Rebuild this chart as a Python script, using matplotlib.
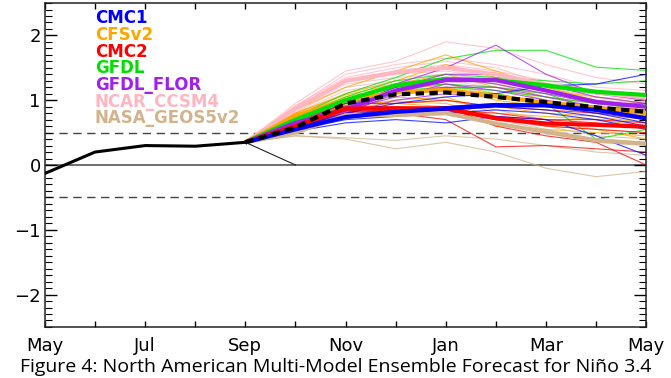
import matplotlib
matplotlib.use('Agg')
import matplotlib.pyplot as plt
from matplotlib.ticker import MultipleLocator

# x axis: May .. May (13 months)
months = ['May', 'Jun', 'Jul', 'Aug', 'Sep', 'Oct', 'Nov', 'Dec', 'Jan', 'Feb', 'Mar', 'Apr', 'May']
tick_labels = ['May', '', 'Jul', '', 'Sep', '', 'Nov', '', 'Jan', '', 'Mar', '', 'May']

# observed Nino 3.4 (May..Sep)
obs = [-0.13, 0.20, 0.30, 0.29, 0.35]
# persistence-ish thin line Sep -> Oct
persist = [0.35, 0.0]

# forecasts, Oct..May (start value comes from last observation)
nmme_mean = [0.58, 0.95, 1.09, 1.12, 1.05, 0.97, 0.89, 0.82]

cmc1_members = [
    [0.58, 0.80, 0.95, 1.05, 1.10, 1.22, 1.25, 1.40],
    [0.56, 0.75, 0.85, 0.90, 0.95, 0.95, 0.85, 0.70],
    [0.54, 0.70, 0.75, 0.80, 0.85, 0.80, 0.70, 0.55],
    [0.52, 0.65, 0.70, 0.65, 0.75, 0.70, 0.45, 0.15],
    [0.55, 0.72, 0.80, 0.85, 0.90, 0.85, 0.75, 0.60],
    [0.57, 0.78, 0.85, 0.90, 0.95, 0.90, 0.80, 0.65],
]
cmc1_mean = [0.55, 0.74, 0.82, 0.87, 0.92, 0.92, 0.85, 0.72]

cfsv2_members = [
    [0.85, 1.20, 1.45, 1.70, 1.45, 1.20, 1.00, 0.90],
    [0.80, 1.10, 1.30, 1.55, 1.35, 1.15, 1.05, 0.95],
    [0.78, 1.05, 1.20, 1.35, 1.25, 1.05, 0.95, 0.85],
    [0.72, 0.95, 1.10, 1.20, 1.00, 0.90, 0.80, 0.70],
    [0.70, 0.90, 1.00, 1.05, 0.80, 0.75, 0.70, 0.60],
    [0.68, 0.88, 0.95, 0.90, 0.60, 0.55, 0.50, 0.45],
    [0.75, 1.00, 1.15, 1.25, 1.10, 0.95, 0.85, 0.75],
    [0.80, 1.08, 1.25, 1.40, 1.20, 1.00, 0.90, 0.85],
    [0.74, 0.98, 1.05, 1.00, 0.90, 0.80, 0.75, 0.65],
    [0.70, 0.92, 0.98, 0.95, 0.75, 0.60, 0.55, 0.40],
]
cfsv2_mean = [0.76, 1.00, 1.12, 1.16, 1.06, 0.96, 0.88, 0.80]

cmc2_members = [
    [0.65, 0.95, 0.95, 1.00, 0.90, 0.85, 0.80, 0.80],
    [0.62, 0.90, 0.90, 0.90, 0.75, 0.70, 0.65, 0.60],
    [0.60, 0.85, 0.80, 0.70, 0.28, 0.30, 0.25, 0.20],
    [0.58, 0.82, 0.85, 0.90, 0.60, 0.45, 0.35, 0.00],
    [0.60, 0.88, 0.90, 0.85, 0.80, 0.70, 0.70, 0.65],
    [0.57, 0.80, 0.80, 0.85, 0.70, 0.60, 0.55, 0.50],
]
cmc2_mean = [0.60, 0.87, 0.87, 0.87, 0.72, 0.64, 0.62, 0.59]

gfdl_members = [
    [0.75, 1.10, 1.35, 1.64, 1.77, 1.77, 1.51, 1.46],
    [0.72, 1.05, 1.30, 1.40, 1.35, 1.30, 1.25, 1.30],
    [0.70, 1.00, 1.25, 1.30, 1.30, 1.20, 1.10, 1.10],
    [0.68, 0.95, 1.15, 1.20, 1.15, 1.05, 0.95, 0.90],
    [0.70, 1.00, 1.20, 1.25, 1.20, 1.10, 0.85, 0.95],
    [0.66, 0.92, 1.10, 1.15, 1.10, 0.95, 0.40, 0.55],
]
gfdl_mean = [0.70, 1.00, 1.23, 1.33, 1.31, 1.23, 1.13, 1.08]

flor_members = [
    [0.68, 0.95, 1.25, 1.50, 1.85, 1.40, 1.10, 1.00],
    [0.66, 0.90, 1.20, 1.40, 1.40, 1.25, 1.05, 0.95],
    [0.64, 0.85, 1.15, 1.30, 1.30, 1.15, 1.00, 0.90],
    [0.62, 0.80, 1.10, 1.20, 1.20, 1.05, 0.90, 0.85],
    [0.65, 0.85, 1.05, 1.25, 1.15, 1.00, 0.85, 0.75],
    [0.60, 0.78, 1.00, 1.10, 1.05, 0.95, 0.80, 0.70],
    [0.66, 0.88, 1.20, 1.35, 1.25, 1.10, 0.95, 0.95],
]
flor_mean = [0.65, 0.85, 1.15, 1.31, 1.31, 1.15, 0.97, 0.90]

ccsm4_members = [
    [0.95, 1.45, 1.60, 1.90, 1.80, 1.55, 1.35, 1.25],
    [0.90, 1.40, 1.55, 1.65, 1.55, 1.40, 1.20, 1.15],
    [0.88, 1.30, 1.45, 1.55, 1.45, 1.30, 1.15, 1.10],
    [0.85, 1.25, 1.35, 1.40, 1.30, 1.20, 1.05, 1.00],
    [0.82, 1.20, 1.30, 1.30, 1.20, 1.10, 1.00, 0.95],
    [0.80, 1.15, 1.25, 1.20, 1.10, 0.95, 0.90, 0.85],
    [0.92, 1.35, 1.50, 1.60, 1.50, 1.25, 1.15, 1.05],
    [0.86, 1.28, 1.40, 1.45, 1.35, 1.15, 1.10, 1.00],
]
ccsm4_mean = [0.87, 1.30, 1.43, 1.50, 1.40, 1.24, 1.12, 1.04]

geos_members = [
    [0.45, 0.40, 0.25, 0.35, 0.20, -0.05, -0.18, -0.10],
    [0.45, 0.42, 0.38, 0.45, 0.40, 0.30, 0.20, 0.15],
    [0.52, 0.80, 0.85, 0.90, 0.75, 0.60, 0.45, 0.40],
    [0.55, 0.90, 0.95, 1.00, 0.85, 0.70, 0.55, 0.50],
    [0.50, 0.78, 0.80, 0.85, 0.70, 0.55, 0.40, 0.35],
    [0.53, 0.85, 0.88, 0.80, 0.65, 0.50, 0.35, 0.30],
]
geos_mean = [0.50, 0.77, 0.77, 0.80, 0.64, 0.51, 0.38, 0.33]

legend_names = ['CMC1', 'CFSv2', 'CMC2', 'GFDL', 'GFDL_FLOR', 'NCAR_CCSM4', 'NASA_GEOS5v2']
legend_colors = ['#0000ff', '#ffa500', '#ff0000', '#00e000', '#a020f0', '#ffb6c1', '#d2b48c']

x_all = list(range(len(months)))
x_obs = x_all[:len(obs)]
x_fc = x_all[len(obs) - 1:]

fig = plt.figure(figsize=(6.71, 3.78), dpi=100)
ax = fig.add_axes([0.067, 0.135, 0.896, 0.857])

# reference lines
ax.axhline(0, color='#555555', lw=1.2, zorder=1)
ax.axhline(0.5, color='#444444', lw=1.0, ls=(0, (6, 4)), zorder=1)
ax.axhline(-0.5, color='#444444', lw=1.0, ls=(0, (6, 4)), zorder=1)

# spaghetti: drawn in this order so the colours stack like the original
draw_order = [('NCAR_CCSM4', ccsm4_members, ccsm4_mean),
              ('CFSv2', cfsv2_members, cfsv2_mean),
              ('NASA_GEOS5v2', geos_members, geos_mean),
              ('GFDL', gfdl_members, gfdl_mean),
              ('GFDL_FLOR', flor_members, flor_mean),
              ('CMC2', cmc2_members, cmc2_mean),
              ('CMC1', cmc1_members, cmc1_mean)]
col = dict(zip(legend_names, legend_colors))

for name, members, mean in draw_order:
    for m in members:
        ax.plot(x_fc, [obs[-1]] + m, color=col[name], lw=0.8, alpha=0.75, zorder=2)

for name, members, mean in draw_order:
    ax.plot(x_fc, [obs[-1]] + mean, color=col[name], lw=3.0, zorder=3,
            solid_capstyle='butt')

ax.plot(x_fc, [obs[-1]] + nmme_mean, color='black', lw=3.0, ls=(0, (2, 1.3)), zorder=4)
ax.plot(x_obs[-1:] + [x_obs[-1] + 1], persist, color='#222222', lw=0.8, zorder=4)
ax.plot(x_obs, obs, color='black', lw=2.2, zorder=5)

# legend as coloured text
for i, (name, c) in enumerate(zip(legend_names, legend_colors)):
    ax.text(0.083, 0.953 - i * 0.0515, name, color=c, transform=ax.transAxes,
            fontsize=12, fontweight='bold', family='DejaVu Sans', va='center', ha='left',
            zorder=6)

ax.set_xlim(0, len(months) - 1)
ax.set_ylim(-2.5, 2.5)
ax.set_xticks(x_all)
ax.set_xticklabels(tick_labels)
ax.yaxis.set_minor_locator(MultipleLocator(0.1))
ax.set_yticks([-2, -1, 0, 1, 2])
ax.set_yticklabels(['\u22122', '\u22121', '0', '1', '2'])

ax.tick_params(axis='x', which='major', direction='in', top=True, length=4, width=1.0,
               labelsize=13, pad=7)
ax.tick_params(axis='y', which='major', direction='in', right=True, length=8.5, width=1.0,
               labelsize=13, pad=3)
ax.tick_params(axis='y', which='minor', direction='in', right=True, length=5, width=0.8)
for s in ax.spines.values():
    s.set_linewidth(1.1)
    s.set_color('#222222')

fig.text(0.5, 0.004, 'Figure 4: North American Multi-Model Ensemble Forecast for Ni\u00f1o 3.4',
         family='Open Sans', fontsize=14, ha='center', va='bottom')

fig.savefig('out.png', dpi=100)
